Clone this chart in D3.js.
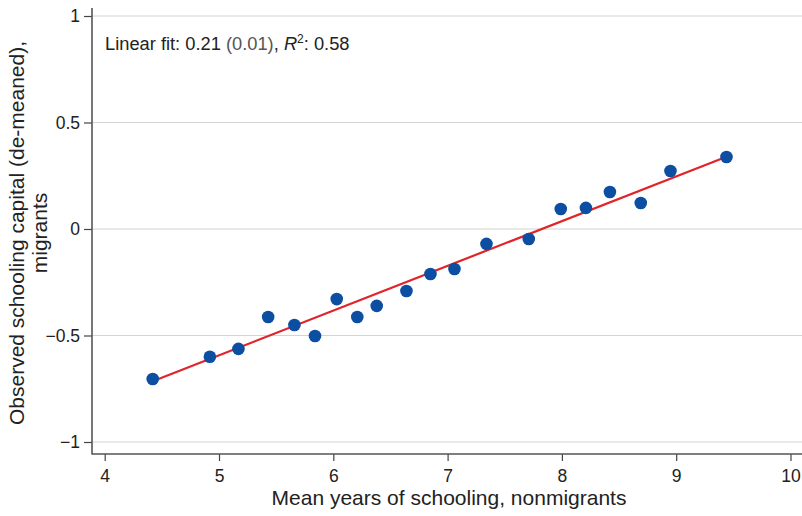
<!DOCTYPE html>
<html>
<head>
<meta charset="utf-8">
<script src="https://cdn.jsdelivr.net/npm/d3@7"></script>
<style>
  body { margin: 0; background: #fff; }
  text { font-family: "Liberation Sans", Arial, Helvetica, sans-serif; fill: #222; }
</style>
</head>
<body>
<div class="plot"></div>
<script>
// data
const schoolingNonmigrants = [4.42, 4.92, 5.17, 5.43, 5.66, 5.84, 6.03, 6.21, 6.38, 6.64,
  6.85, 7.06, 7.34, 7.71, 7.99, 8.21, 8.42, 8.69, 8.95, 9.44];
const capitalMigrants = [-0.704, -0.600, -0.563, -0.413, -0.451, -0.502, -0.329, -0.413, -0.361, -0.291,
  -0.211, -0.188, -0.070, -0.047, 0.094, 0.099, 0.174, 0.122, 0.272, 0.338];
const fitSlope = 0.21;
const fitIntercept = -1.643;
const xTicks = [4, 5, 6, 7, 8, 9, 10];
const yTicks = [-1, -0.5, 0, 0.5, 1];

const data = schoolingNonmigrants.map((d, i) => ({x: d, y: capitalMigrants[i]}));

const outerWidth = 802, outerHeight = 516;
const svg = d3.select('.plot').append('svg')
  .attr('width', outerWidth)
  .attr('height', outerHeight);

const xScale = d3.scaleLinear().domain([4, 10]).range([104.7, 790.5]);
const yScale = d3.scaleLinear().domain([-1, 1]).range([442, 16]);

const frame = {left: 92, bottom: 454, top: 8, right: 802};

// gridlines
svg.append('g').selectAll('line')
  .data(yTicks)
  .enter().append('line')
  .attr('x1', frame.left).attr('x2', frame.right)
  .attr('y1', d => yScale(d)).attr('y2', d => yScale(d))
  .attr('stroke', '#d4d4d4').attr('stroke-width', 1.2);

// axes
const fmtY = d => d === 0 ? '0' : (d < 0 ? '\u2212' + Math.abs(d) : String(d));
const yAxis = d3.axisLeft(yScale).tickValues(yTicks).tickFormat(fmtY).tickSize(8).tickPadding(4);
const gy = svg.append('g').attr('transform', `translate(${frame.left},0)`).call(yAxis);
gy.select('.domain').remove();

const xAxis = d3.axisBottom(xScale).tickValues(xTicks).tickFormat(d3.format('d')).tickSize(7).tickPadding(9);
const gx = svg.append('g').attr('transform', `translate(0,${frame.bottom})`).call(xAxis);
gx.select('.domain').remove();

[gx, gy].forEach(g => {
  g.selectAll('.tick line').attr('stroke', '#444').attr('stroke-width', 1.2);
  g.selectAll('.tick text').attr('fill', '#222')
    .style('font-size', '17.5px')
    .style('font-family', '"Liberation Sans", Arial, sans-serif');
});

svg.append('line').attr('x1', frame.left).attr('x2', frame.left).attr('y1', frame.top).attr('y2', frame.bottom + 0.5)
  .attr('stroke', '#555').attr('stroke-width', 1.6);
svg.append('line').attr('x1', frame.left).attr('x2', frame.right).attr('y1', frame.bottom).attr('y2', frame.bottom)
  .attr('stroke', '#555').attr('stroke-width', 1.6);

// fit line
const xExt = d3.extent(schoolingNonmigrants);
svg.append('line')
  .attr('x1', xScale(xExt[0])).attr('y1', yScale(fitSlope * xExt[0] + fitIntercept))
  .attr('x2', xScale(xExt[1])).attr('y2', yScale(fitSlope * xExt[1] + fitIntercept))
  .attr('stroke', '#e0242a').attr('stroke-width', 2.2);

// points
svg.append('g').selectAll('circle')
  .data(data)
  .enter().append('circle')
  .attr('cx', d => xScale(d.x))
  .attr('cy', d => yScale(d.y))
  .attr('r', 6.3)
  .attr('fill', '#0b4ea2');

// annotation
const note = svg.append('text').attr('x', 105).attr('y', 50).attr('font-size', 18.3);
note.append('tspan').text('Linear fit: 0.21 ');
note.append('tspan').attr('fill', '#555').text('(0.01)');
note.append('tspan').text(', ');
note.append('tspan').attr('font-style', 'italic').text('R');
note.append('tspan').attr('font-size', 12).attr('dy', -7).text('2');
note.append('tspan').attr('dy', 7).text(': 0.58');

// axis titles
svg.append('text')
  .attr('x', 449).attr('y', 505)
  .attr('text-anchor', 'middle').attr('font-size', 21)
  .text('Mean years of schooling, nonmigrants');

const yl = svg.append('text')
  .attr('transform', 'translate(24,233) rotate(-90)')
  .attr('text-anchor', 'middle').attr('font-size', 21);
yl.append('tspan').attr('x', 0).attr('dy', 0).text('Observed schooling capital (de-meaned),');
yl.append('tspan').attr('x', 0).attr('dy', 23).text('migrants');
</script>
</body>
</html>
